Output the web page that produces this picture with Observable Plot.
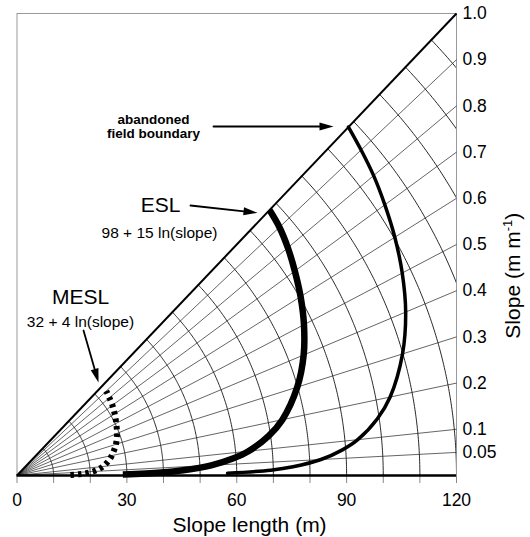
<!DOCTYPE html>
<html><head><meta charset="utf-8">
<script src="https://cdn.jsdelivr.net/npm/d3@7"></script>
<script src="https://cdn.jsdelivr.net/npm/@observablehq/plot@0.6"></script>
<style>body{margin:0;background:#fff;}</style>
</head><body><div id="chart"></div>
<script>
// slope (m m-1) at which curve lengths are read
const slopes = [0.01,0.02,0.03,0.05,0.075,0.1,0.15,0.2,0.3,0.4,0.5,0.6,0.7,0.8,0.9,1.0];
// MESL  32 + 4 ln(slope)  (read to slope 0.9)
const meslLength = [14.6,17.0,18.7,20.8,22.4,23.6,25.2,26.4,28.2,29.4,30.3,31.1,31.8,32.3,32.8];
// ESL  98 + 15 ln(slope)
const eslLength = [28.9,39.3,45.4,53.1,59.1,63.5,69.5,73.9,79.9,84.3,87.6,90.3,92.6,94.7,96.4,97.5];
// outer (abandoned field) curve
const outerLength = [57.5,69.3,75.4,83.1,89.1,93.5,99.5,103.9,109.9,114.3,117.6,120.3,122.6,124.7,126.4,128.0];

const raySlopes = [0.05,0.1,0.2,0.3,0.4,0.5,0.6,0.7,0.8,0.9];
const arcRadii = [10,20,30,40,50,60,70,80,90,100,110,120,130,140,150,160];
const lengthTicks = [0,10,20,30,40,50,60,70,80,90,100,110,120];
const lengthLabels = [0,30,60,90,120];
const slopeTickValues = [0.05,0.1,0.2,0.3,0.4,0.5,0.6,0.7,0.8,0.9,1.0];
const slopeTickLabels = ["0.05","0.1","0.2","0.3","0.4","0.5","0.6","0.7","0.8","0.9","1.0"];

// polar placement: radius = slope length, tan(angle) = slope
const toPts = (lengths) => lengths.map((L, i) => {
  const s = slopes[i], h = Math.hypot(1, s);
  return {x: L / h, y: L * s / h};
});
const arcPts = arcRadii.flatMap(r => d3.range(0, 121).map(i => {
  const a = Math.PI / 4 * i / 120;
  return {r, x: r * Math.cos(a), y: r * Math.sin(a)};
}));

// annotation arrows (start -> tip)
const arrows = [
  {x1: 53.65, y1: 90.65, x2: 86.42, y2: 90.65},
  {x1: 47.37, y1: 70.13, x2: 65.67, y2: 68.23},
  {x1: 18.16, y1: 37.66, x2: 22.25, y2: 24.16}
];
const kx = 439.5 / 120, ky = 462 / 120;
arrows.forEach(a => { a.rot = Math.atan2((a.x2 - a.x1) * kx, (a.y2 - a.y1) * ky) * 180 / Math.PI; });

const font = "'Liberation Sans', Arial, Helvetica, sans-serif";

const chart = Plot.plot({
  width: 530, height: 537,
  marginLeft: 16.5, marginRight: 74, marginTop: 13, marginBottom: 62,
  x: {domain: [0, 120], axis: null},
  y: {domain: [0, 120], axis: null},
  style: {fontFamily: font, background: "white", color: "black"},
  marks: [
    Plot.frame({stroke: "#999", strokeWidth: 1}),
    Plot.line(arcPts, {x: "x", y: "y", z: "r", stroke: "#111", strokeWidth: 0.9, clip: true}),
    Plot.link(raySlopes, {x1: 0, y1: 0, x2: 120, y2: d => 120 * d, stroke: "#222", strokeWidth: 0.7}),
    Plot.axisX({ticks: lengthTicks, tickSize: 8, tickFormat: () => "", stroke: "#888", label: null}),
    Plot.link([1], {x1: 0, y1: 0, x2: 120, y2: 120, stroke: "black", strokeWidth: 2}),
    Plot.ruleY([0], {x1: 0, x2: 120, stroke: "black", strokeWidth: 2.5}),
    Plot.line(toPts(outerLength), {x: "x", y: "y", stroke: "black", strokeWidth: 3.5, curve: "catmull-rom"}),
    Plot.line(toPts(eslLength), {x: "x", y: "y", stroke: "black", strokeWidth: 6.5, strokeLinecap: "butt", curve: "catmull-rom"}),
    Plot.line(toPts(meslLength), {x: "x", y: "y", stroke: "black", strokeWidth: 6, strokeDasharray: "3.5,4", strokeLinecap: "butt", curve: "catmull-rom"}),
    Plot.text(lengthLabels, {x: d => d, y: 0, dy: 25, text: d => String(d), fontSize: 17.5}),
    Plot.text(slopeTickValues, {x: 120, y: d => 120 * d, dx: 6, text: (d, i) => slopeTickLabels[i], textAnchor: "start", fontSize: 17.5}),
    Plot.text(["Slope length (m)"], {x: 63.5, y: 0, dy: 50, text: d => d, fontSize: 21}),
    Plot.text(["Slope (m m-1)"], {x: 120, y: 51.9, dx: 57, rotate: -90, text: d => d, fontSize: 21}),
    Plot.text(["abandoned\nfield boundary"], {x: 37.3, y: 90.65, text: d => d, fontSize: 13.5, fontWeight: "bold", lineHeight: 1.04}),
    Plot.text(["ESL"], {x: 39.18, y: 70.13, text: d => d, fontSize: 21}),
    Plot.text(["98 + 15 ln(slope)"], {x: 38.9, y: 63.1, text: d => d, fontSize: 15.5}),
    Plot.text(["MESL"], {x: 17.34, y: 46.23, text: d => d, fontSize: 21}),
    Plot.text(["32 + 4 ln(slope)"], {x: 17.34, y: 39.74, text: d => d, fontSize: 15.5}),
    Plot.arrow(arrows, {x1: "x1", y1: "y1", x2: "x2", y2: "y2", headLength: 0, insetEnd: 9, stroke: "black", strokeWidth: 1.8}),
    Plot.vector(arrows, {x: "x2", y: "y2", rotate: "rot", length: 14, r: 4, shape: "spike", anchor: "end", fill: "black", fillOpacity: 1, stroke: "none"})
  ]
});
document.getElementById("chart").appendChild(chart);

// superscript for the slope unit
chart.querySelectorAll("text").forEach(t => {
  if (t.textContent === "Slope (m m-1)") {
    const ns = "http://www.w3.org/2000/svg";
    t.textContent = "";
    t.appendChild(document.createTextNode("Slope (m m"));
    const sup = document.createElementNS(ns, "tspan");
    sup.setAttribute("dy", "-8"); sup.setAttribute("font-size", "13");
    sup.textContent = "-1";
    t.appendChild(sup);
    const close = document.createElementNS(ns, "tspan");
    close.setAttribute("dy", "8");
    close.textContent = ")";
    t.appendChild(close);
  }
});
</script>
</body></html>
